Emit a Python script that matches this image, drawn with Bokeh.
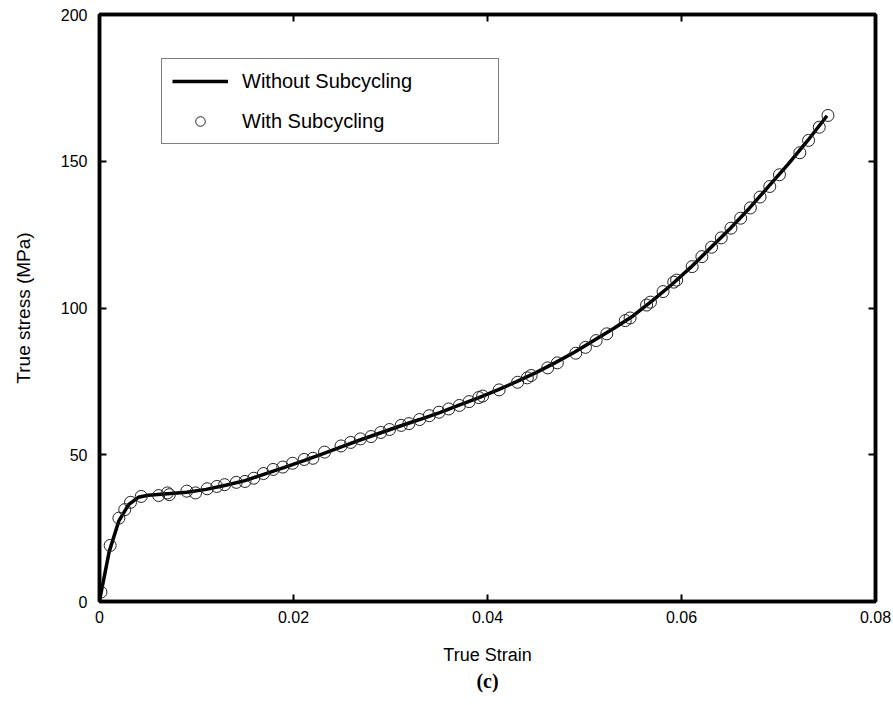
from bokeh.plotting import figure
from bokeh.models import (LinearAxis, FixedTicker, Range1d, Legend, LegendItem, Title)
from bokeh.embed import file_html
from bokeh.resources import INLINE

# ---- data ----
line_strain = [0.0, 0.001, 0.002, 0.003, 0.004, 0.005, 0.007, 0.009, 0.011, 0.013,
               0.015, 0.017, 0.019, 0.021, 0.023, 0.025, 0.027, 0.029, 0.031, 0.033,
               0.035, 0.037, 0.039, 0.041, 0.043, 0.045, 0.047, 0.049, 0.051, 0.053,
               0.055, 0.057, 0.059, 0.061, 0.063, 0.065, 0.067, 0.069, 0.071, 0.073, 0.075]
line_stress = [0.3, 17.0, 27.5, 33.0, 35.5, 36.2, 36.7, 37.2, 38.2, 39.6,
               41.2, 43.4, 45.6, 47.9, 50.3, 52.8, 55.2, 57.5, 59.8, 62.0,
               64.3, 66.8, 69.3, 72.0, 74.9, 78.0, 81.4, 85.0, 89.0, 93.0,
               97.3, 102.5, 108.0, 114.0, 120.5, 127.0, 134.0, 141.5, 149.0, 157.0, 165.5]

sub_strain = [0.00015, 0.0011, 0.0020, 0.0026, 0.0032, 0.0043, 0.0061, 0.0070, 0.0072,
              0.0090, 0.0099, 0.0111, 0.0121, 0.0129, 0.0141, 0.0150, 0.0159, 0.0169,
              0.0179, 0.0189, 0.0199, 0.0211, 0.0220, 0.0232, 0.0249, 0.0259, 0.0269,
              0.0280, 0.0290, 0.0299, 0.0311, 0.0319, 0.0330, 0.0340, 0.0350, 0.0360,
              0.0371, 0.0381, 0.0391, 0.0395, 0.0412, 0.0431, 0.0441, 0.0445, 0.0462,
              0.0472, 0.0491, 0.0501, 0.0512, 0.0523, 0.0542, 0.0547, 0.0564, 0.0568,
              0.0581, 0.0592, 0.0595, 0.0611, 0.0621, 0.0631, 0.0641, 0.0651, 0.0661,
              0.0671, 0.0681, 0.0691, 0.0701, 0.0722, 0.0731, 0.0742, 0.0751]
sub_stress = [3.2, 19.1, 28.4, 31.3, 33.8, 35.8, 36.1, 37.0, 36.4,
              37.6, 37.0, 38.4, 39.2, 39.8, 40.6, 40.9, 42.0, 43.6,
              45.0, 45.8, 47.1, 48.4, 48.8, 50.9, 53.0, 54.2, 55.4,
              56.2, 57.6, 58.6, 60.0, 60.6, 62.0, 63.3, 64.5, 65.6,
              66.8, 68.1, 69.5, 70.0, 72.1, 74.7, 76.2, 77.0, 79.6,
              81.3, 84.6, 86.6, 88.9, 91.2, 95.7, 96.6, 101.0, 102.0,
              105.6, 108.8, 109.5, 114.1, 117.5, 120.7, 123.9, 127.2, 130.6,
              134.1, 137.8, 141.4, 145.4, 152.9, 157.1, 161.6, 165.6]

x_ticks = [0, 0.02, 0.04, 0.06, 0.08]
x_tick_labels = ["0", "0.02", "0.04", "0.06", "0.08"]
y_ticks = [0, 50, 100, 150, 200]
y_tick_labels = ["0", "50", "100", "150", "200"]

FONT = "Liberation Sans"

p = figure(width=893, height=705, output_backend="svg", toolbar_location=None,
           x_range=Range1d(0, 0.08), y_range=Range1d(0, 200),
           min_border_left=99, min_border_right=18, min_border_top=14, min_border_bottom=104,
           x_axis_location=None, y_axis_location=None)
p.grid.visible = False
p.outline_line_color = "black"
p.outline_line_width = 3.5
p.background_fill_color = "white"
p.border_fill_color = "white"

def style_axis(ax, label_size="16px"):
    ax.axis_line_width = 3.5
    ax.axis_line_color = "black"
    ax.major_tick_in = 7
    ax.major_tick_out = 0
    ax.major_tick_line_width = 2
    ax.minor_tick_line_color = None
    ax.major_label_text_font = FONT
    ax.major_label_text_font_size = "16px"
    ax.major_label_text_color = "black"
    ax.axis_label_text_font = FONT
    ax.axis_label_text_font_size = label_size
    ax.axis_label_text_font_style = "normal"
    ax.axis_label_text_color = "black"

bx = LinearAxis(ticker=FixedTicker(ticks=x_ticks),
                major_label_overrides={t: l for t, l in zip(x_ticks, x_tick_labels)},
                axis_label="True Strain")
style_axis(bx, "18px")
bx.major_label_standoff = 9
bx.axis_label_standoff = 19
p.add_layout(bx, "below")

ly = LinearAxis(ticker=FixedTicker(ticks=y_ticks),
                major_label_overrides={t: l for t, l in zip(y_ticks, y_tick_labels)},
                axis_label="True stress (MPa)")
style_axis(ly, "19px")
ly.major_label_standoff = 12
ly.axis_label_standoff = 24
p.add_layout(ly, "left")

tx = LinearAxis(ticker=FixedTicker(ticks=x_ticks),
                major_label_overrides={t: "" for t in x_ticks})
style_axis(tx)
p.add_layout(tx, "above")
ry = LinearAxis(ticker=FixedTicker(ticks=y_ticks),
                major_label_overrides={t: "" for t in y_ticks})
style_axis(ry)
p.add_layout(ry, "right")

cap = Title(text="(c)", align="center", text_font="Liberation Serif",
            text_font_style="bold", text_font_size="20px", text_color="black",
            standoff=0, offset=0)
p.add_layout(cap, "below")

r_line = p.line(line_strain, line_stress, line_color="black", line_width=3.5)
r_pts = p.scatter(sub_strain, sub_stress, marker="circle", size=12,
                  fill_color=None, line_color="#222222", line_width=1)

legend = Legend(items=[LegendItem(label="Without Subcycling", renderers=[r_line]),
                       LegendItem(label="With Subcycling", renderers=[r_pts])],
                location=(62, 457))
legend.padding = 10
legend.margin = 0
legend.spacing = 16
legend.label_height = 24
legend.glyph_height = 24
legend.glyph_width = 56
legend.label_standoff = 14
legend.label_width = 246
legend.label_text_font = FONT
legend.label_text_font_size = "20px"
legend.label_text_color = "black"
legend.border_line_color = "black"
legend.border_line_width = 1.5
legend.background_fill_alpha = 1
p.add_layout(legend, "center")

open("out.html", "w").write(file_html(p, INLINE))
